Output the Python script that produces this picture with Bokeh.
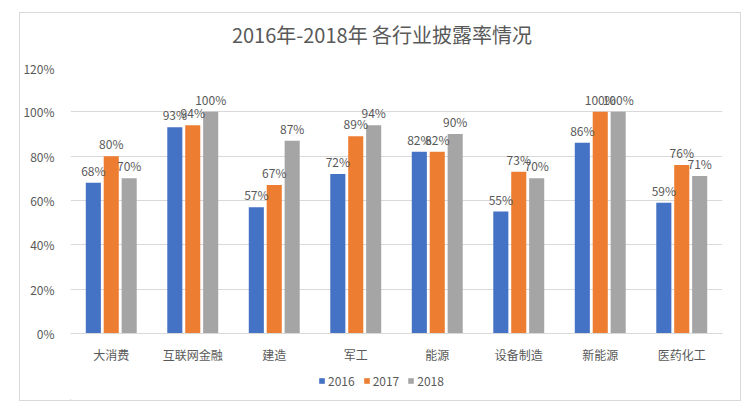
from bokeh.plotting import figure
from bokeh.layouts import column
from bokeh.models import (ColumnDataSource, Range1d, FactorRange, NumeralTickFormatter,
                          FixedTicker, Legend, LegendItem, LabelSet)
from bokeh.transform import dodge
from bokeh.core.properties import value
from bokeh.embed import file_html
from bokeh.resources import INLINE

categories = ["大消费", "互联网金融", "建造", "军工", "能源", "设备制造", "新能源", "医药化工"]
years = ["2016", "2017", "2018"]
v2016 = [0.68, 0.93, 0.57, 0.72, 0.82, 0.55, 0.86, 0.59]
v2017 = [0.80, 0.94, 0.67, 0.89, 0.82, 0.73, 1.00, 0.76]
v2018 = [0.70, 1.00, 0.87, 0.94, 0.90, 0.70, 1.00, 0.71]
y_ticks = [0, 0.2, 0.4, 0.6, 0.8, 1.0, 1.2]
title_text = "2016年-2018年 各行业披露率情况"

colors = ["#4472C4", "#ED7D31", "#A5A5A5"]
FONT = "Noto Sans CJK SC"

def pct(vals):
    return ["%d%%" % round(v * 100) for v in vals]

src = ColumnDataSource(dict(cat=categories, y2016=v2016, y2017=v2017, y2018=v2018,
                            l2016=pct(v2016), l2017=pct(v2017), l2018=pct(v2018)))

def strip(h):
    f = figure(width=720, height=h, x_range=Range1d(0, 720), y_range=Range1d(0, h),
               output_backend="svg", toolbar_location=None,
               min_border_left=0, min_border_right=0, min_border_top=0, min_border_bottom=0)
    f.axis.visible = False
    f.grid.visible = False
    f.outline_line_color = None
    f.border_fill_color = "white"
    f.background_fill_color = "white"
    return f

# title strip
tf = strip(46)
tf.text(x=[344], y=[25], text=[title_text], text_align="center", text_baseline="middle",
        text_font_size="20px", text_color="#595959", text_font=value(FONT))

# main chart
p = figure(width=720, height=306, x_range=FactorRange(*categories, range_padding=0),
           y_range=Range1d(0, 1.2), output_backend="svg", toolbar_location=None,
           min_border_left=50, min_border_right=18, min_border_top=8, min_border_bottom=30)
p.outline_line_color = None
p.background_fill_color = "white"
p.border_fill_color = "white"

offsets = [-0.22, 0.0, 0.22]
for yr, off, c in zip(years, offsets, colors):
    p.vbar(x=dodge("cat", off, range=p.x_range), top="y" + yr, width=0.185,
           source=src, fill_color=c, line_color=None)
    lbl = LabelSet(x=dodge("cat", off, range=p.x_range), y="y" + yr, text="l" + yr,
                   source=src, text_align="center", text_baseline="bottom",
                   y_offset=4, text_font_size="12px", text_color="#595959",
                   text_font=value(FONT))
    p.add_layout(lbl)

p.yaxis.ticker = FixedTicker(ticks=y_ticks)
p.yaxis.formatter = NumeralTickFormatter(format="0%")
p.yaxis.axis_line_color = None
p.yaxis.major_tick_line_color = None
p.yaxis.minor_tick_line_color = None
p.yaxis.major_label_text_font_size = "12px"
p.yaxis.major_label_text_color = "#595959"
p.yaxis.major_label_text_font = FONT
p.yaxis.major_label_standoff = 10

p.xaxis.axis_line_color = "#d9d9d9"
p.xaxis.major_tick_line_color = None
p.xaxis.minor_tick_line_color = None
p.xaxis.major_label_text_font_size = "12px"
p.xaxis.major_label_text_color = "#595959"
p.xaxis.major_label_text_font = FONT
p.xaxis.major_label_standoff = 6

p.xgrid.grid_line_color = None
p.ygrid.grid_line_color = "#d9d9d9"
p.ygrid.ticker = FixedTicker(ticks=y_ticks)

# legend strip
lg = strip(35)
leg_renderers = [lg.vbar(x=[-100], top=[1], width=1, fill_color=c, line_color=None) for c in colors]
legend = Legend(items=[LegendItem(label=yr, renderers=[r]) for yr, r in zip(years, leg_renderers)],
                orientation="horizontal", location=(248, 11), border_line_color=None,
                background_fill_alpha=0, label_text_font_size="12px",
                label_text_color="#595959", label_text_font=FONT,
                glyph_width=7, glyph_height=7, spacing=8, label_standoff=3,
                padding=0, margin=0, label_height=12)
lg.add_layout(legend, "center")

layout = column(tf, p, lg, spacing=0)
layout.margin = (13, 0, 0, 20)
layout.styles = {"outline": "1px solid #d9d9d9"}

open("out.html", "w").write(file_html(layout, INLINE))
